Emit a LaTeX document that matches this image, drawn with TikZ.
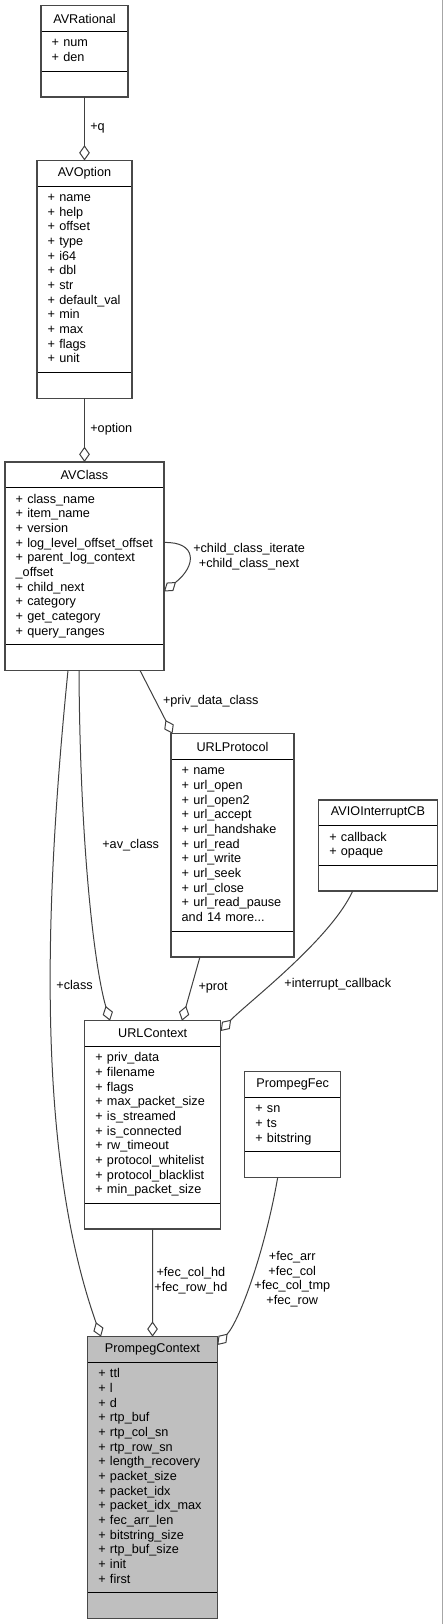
\documentclass[tikz,border=0pt]{standalone}
\usepackage{fontspec}
\setmainfont{Liberation Sans}
\usepackage{tikz}
\usetikzlibrary{arrows.meta, positioning, fit}
\definecolor{edgegray}{RGB}{64,64,64}
\definecolor{framegray}{RGB}{72,72,72}
\definecolor{boxgray}{RGB}{191,191,191}
\newcommand{\cfont}{\fontsize{9.5}{11}\selectfont}

\begin{document}
\begin{tikzpicture}[
  x=0.75pt, y=-0.75pt,
  ctitle/.style={rectangle, draw=black, line width=0.7pt, outer sep=0pt,
    inner sep=0pt, minimum height=19.2pt, font=\cfont, anchor=north},
  cbody/.style={rectangle, draw=black, line width=0.7pt, outer sep=0pt,
    inner xsep=8pt, inner ysep=3.95pt, align=left, font=\cfont,
    execute at begin node=\strut, execute at end node=\strut},
  cfoot/.style={rectangle, draw=black, line width=0.7pt, outer sep=0pt,
    inner sep=0pt, minimum height=19.2pt},
  cframe/.style={rectangle, draw=framegray, line width=1.1pt, inner sep=0pt},
  agg/.style={draw=edgegray, line width=0.75pt,
    -{Diamond[open, length=11.5pt, width=8pt]}},
  lbl/.style={font=\cfont, inner sep=1pt}
]
  \useasboundingbox (0,0) rectangle (443,1624);
  \draw[gray!70, line width=0.75pt] (442.5,0) -- (442.5,1624);

  %% AVRational
  \node[ctitle, minimum width=65.25pt] (avr) at (84.5,5.7) {AVRational};
  \node[cbody, text width=49.25pt, below=0pt of avr] (avr-m) {+ num\\+ den};
  \node[cfoot, minimum width=65.25pt, below=0pt of avr-m] (avr-f) {};
  \node[cframe, fit=(avr)(avr-f)] (avr-box) {};

  %% AVOption
  \node[ctitle, minimum width=71.25pt] (avo) at (84.5,160.5) {AVOption};
  \node[cbody, text width=55.25pt, below=0pt of avo] (avo-m)
    {+ name\\+ help\\+ offset\\+ type\\+ i64\\+ dbl\\+ str\\+ default\_val\\+ min\\+ max\\+ flags\\+ unit};
  \node[cfoot, minimum width=71.25pt, below=0pt of avo-m] (avo-f) {};
  \node[cframe, fit=(avo)(avo-f)] (avo-box) {};

  %% AVClass
  \node[ctitle, minimum width=119.25pt] (avc) at (84.5,462) {AVClass};
  \node[cbody, text width=103.25pt, below=0pt of avc] (avc-m)
    {+ class\_name\\+ item\_name\\+ version\\+ log\_level\_offset\_offset\\+ parent\_log\_context\\\_offset\\+ child\_next\\+ category\\+ get\_category\\+ query\_ranges};
  \node[cfoot, minimum width=119.25pt, below=0pt of avc-m] (avc-f) {};
  \node[cframe, fit=(avc)(avc-f)] (avc-box) {};

  %% URLProtocol
  \node[ctitle, minimum width=92.25pt] (urlp) at (232.5,733.7) {URLProtocol};
  \node[cbody, text width=76.25pt, below=0pt of urlp] (urlp-m)
    {+ name\\+ url\_open\\+ url\_open2\\+ url\_accept\\+ url\_handshake\\+ url\_read\\+ url\_write\\+ url\_seek\\+ url\_close\\+ url\_read\_pause\\and 14 more...};
  \node[cfoot, minimum width=92.25pt, below=0pt of urlp-m] (urlp-f) {};
  \node[cframe, fit=(urlp)(urlp-f)] (urlp-box) {};

  %% AVIOInterruptCB
  \node[ctitle, minimum width=89pt] (avio) at (378,800) {AVIOInterruptCB};
  \node[cbody, text width=73pt, below=0pt of avio] (avio-m) {+ callback\\+ opaque};
  \node[cfoot, minimum width=89pt, below=0pt of avio-m] (avio-f) {};
  \node[cframe, fit=(avio)(avio-f)] (avio-box) {};

  %% URLContext
  \node[ctitle, minimum width=102pt] (urlc) at (152.7,1020.7) {URLContext};
  \node[cbody, text width=86pt, below=0pt of urlc] (urlc-m)
    {+ priv\_data\\+ filename\\+ flags\\+ max\_packet\_size\\+ is\_streamed\\+ is\_connected\\+ rw\_timeout\\+ protocol\_whitelist\\+ protocol\_blacklist\\+ min\_packet\_size};
  \node[cfoot, minimum width=102pt, below=0pt of urlc-m] (urlc-f) {};
  \node[cframe, fit=(urlc)(urlc-f)] (urlc-box) {};

  %% PrompegFec
  \node[ctitle, minimum width=72pt] (pfec) at (292.7,1071.7) {PrompegFec};
  \node[cbody, text width=56pt, below=0pt of pfec] (pfec-m) {+ sn\\+ ts\\+ bitstring};
  \node[cfoot, minimum width=72pt, below=0pt of pfec-m] (pfec-f) {};
  \node[cframe, fit=(pfec)(pfec-f)] (pfec-box) {};

  %% PrompegContext
  \node[ctitle, fill=boxgray, minimum width=97.2pt] (pc) at (152.5,1336.7) {PrompegContext};
  \node[cbody, fill=boxgray, text width=81.2pt, below=0pt of pc] (pc-m)
    {+ ttl\\+ l\\+ d\\+ rtp\_buf\\+ rtp\_col\_sn\\+ rtp\_row\_sn\\+ length\_recovery\\+ packet\_size\\+ packet\_idx\\+ packet\_idx\_max\\+ fec\_arr\_len\\+ bitstring\_size\\+ rtp\_buf\_size\\+ init\\+ first};
  \node[cfoot, fill=boxgray, minimum width=97.2pt, below=0pt of pc-m] (pc-f) {};
  \node[cframe, fit=(pc)(pc-f)] (pc-box) {};

  %% members
  \draw[agg] (avr-f) -- node[lbl, right=3pt, pos=.49] {+q} (avo);
  \draw[agg] (avo-f) -- node[lbl, right=3pt, pos=.48] {+option} (avc);
  \draw[agg] ([shift={(0,-23.7)}]avc-m.east) .. controls +(33,-1) and +(33,-26) ..
    node[lbl, align=center, right=2pt, pos=.5] {+child\_class\_iterate\\+child\_class\_next}
    ([shift={(0,25.3)}]avc-m.east);
  \draw[agg] ([shift={(55.5,0)}]avc-f.south) --
    node[lbl, right=4.2pt, pos=.48] {+priv\_data\_class} ([shift={(1.5,0)}]urlp.north west);
  \draw[agg] ([shift={(-5.5,0)}]avc-f.south) .. controls +(1,180) and +(-15,-50.7) ..
    node[lbl, right=11.5pt, pos=.37] {+av\_class} ([shift={(-42.7,0)}]urlc.north);
  \draw[agg] ([shift={(-16.5,0)}]avc-f.south) .. controls +(-23,230) and +(-66,-186.7) ..
    node[lbl, right=3pt, pos=.45] {+class} ([shift={(-51.5,0)}]pc.north);
  \draw[agg] ([shift={(-32.5,0)}]urlp-f.south) --
    node[lbl, right=4pt, pos=.48] {+prot} ([shift={(29.3,0)}]urlc.north);
  \draw[agg] ([shift={(-25.3,0)}]avio-f.south) .. controls +(-22.7,49.3) and +(24,-26) ..
    node[lbl, right=8.75pt, pos=.6] {+interrupt\_callback} ([shift={(0,-2.5)}]urlc.east);
  \draw[agg] (urlc-f) --
    node[lbl, align=center, right=0pt, pos=.48] {+fec\_col\_hd\\+fec\_row\_hd} (pc);
  \draw[agg] ([shift={(-15,0)}]pfec-f.south) .. controls +(-12.7,73) and +(22.7,-25) ..
    node[lbl, align=center, right=1pt, pos=.5] {+fec\_arr\\+fec\_col\\+fec\_col\_tmp\\+fec\_row}
    ([shift={(0,-4.5)}]pc.east);
\end{tikzpicture}
\end{document}
